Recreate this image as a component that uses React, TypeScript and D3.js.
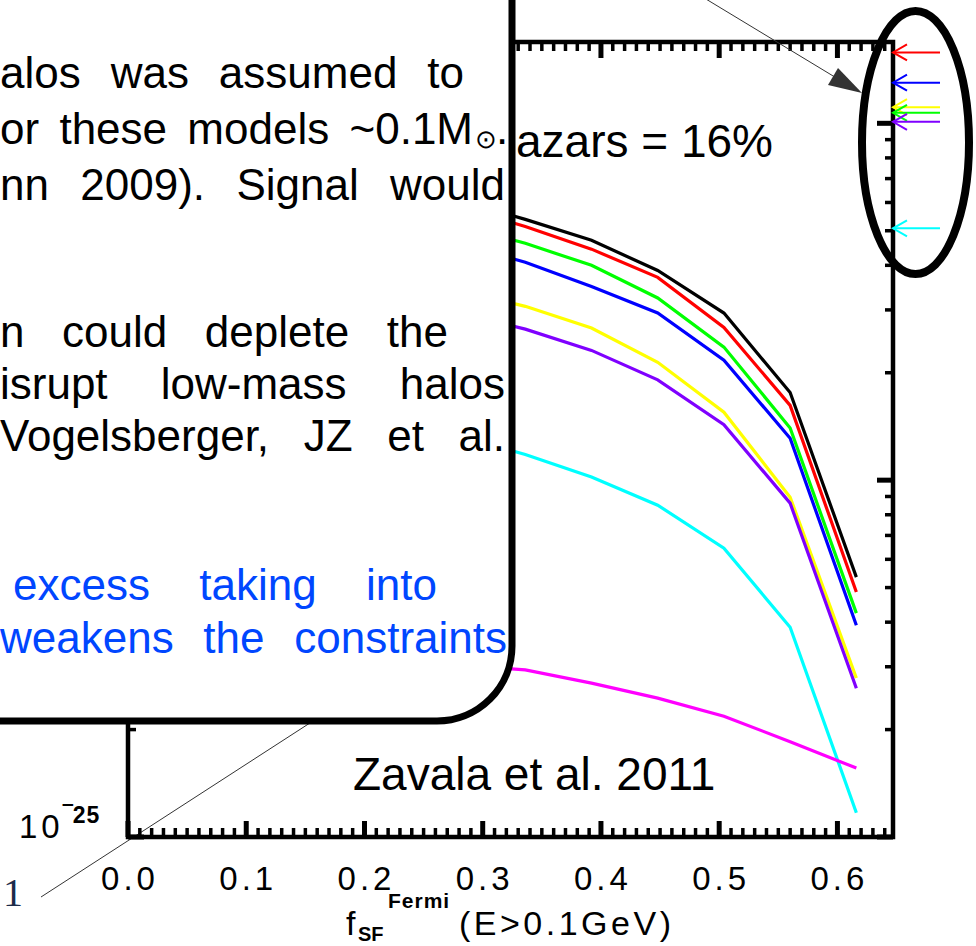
import React, { useMemo } from "react";
import * as d3 from "d3";

// ---- data ----
const fSF = [0, 0.056, 0.112, 0.168, 0.224, 0.28, 0.336, 0.392, 0.448, 0.504, 0.56, 0.616];
const blackVals = [9.0e-24, 8.6e-24, 8.0e-24, 7.4e-24, 6.7e-24, 6.08e-24, 5.38e-24, 4.7e-24, 3.87e-24, 2.94e-24, 1.76e-24, 5.35e-25];
const redVals = [8.6e-24, 8.2e-24, 7.6e-24, 7.0e-24, 6.4e-24, 5.82e-24, 5.14e-24, 4.44e-24, 3.7e-24, 2.68e-24, 1.62e-24, 4.86e-25];
const greenVals = [7.8e-24, 7.3e-24, 6.8e-24, 6.2e-24, 5.7e-24, 5.18e-24, 4.61e-24, 4.0e-24, 3.24e-24, 2.36e-24, 1.4e-24, 4.24e-25];
const blueVals = [7.0e-24, 6.5e-24, 6.0e-24, 5.5e-24, 5.05e-24, 4.61e-24, 4.08e-24, 3.49e-24, 2.94e-24, 2.17e-24, 1.31e-24, 3.92e-25];
const yellowVals = [5.2e-24, 4.9e-24, 4.5e-24, 4.1e-24, 3.75e-24, 3.4e-24, 3.07e-24, 2.67e-24, 2.14e-24, 1.55e-24, 8.96e-25, 2.79e-25];
const purpleVals = [4.5e-24, 4.2e-24, 3.9e-24, 3.55e-24, 3.25e-24, 2.94e-24, 2.65e-24, 2.31e-24, 1.91e-24, 1.43e-24, 8.62e-25, 2.61e-25];
const cyanVals = [2.1e-24, 1.95e-24, 1.8e-24, 1.65e-24, 1.48e-24, 1.33e-24, 1.18e-24, 1.02e-24, 8.51e-25, 6.45e-25, 3.87e-25, 1.17e-25];
const magentaVals = [3.6e-25, 3.5e-25, 3.4e-25, 3.3e-25, 3.15e-25, 3.03e-25, 2.94e-25, 2.7e-25, 2.45e-25, 2.18e-25, 1.85e-25, 1.56e-25];

const seriesColors = ["#000000", "#ff0000", "#00ff00", "#0000ff", "#ffff00", "#7f00ff", "#00ffff", "#ff00ff"];
const seriesVals = [blackVals, redVals, greenVals, blueVals, yellowVals, purpleVals, cyanVals, magentaVals];

// limits marked by arrows at the right axis
const arrowVals = [1.58e-23, 1.3e-23, 1.11e-23, 1.07e-23, 1.01e-23, 5.08e-24];
const arrowColors = ["#ff0000", "#0000ff", "#ffff00", "#00ff00", "#7f00ff", "#00ffff"];

const xTickLabels = ["0.0", "0.1", "0.2", "0.3", "0.4", "0.5", "0.6"];
const xMajor = [0, 0.1, 0.2, 0.3, 0.4, 0.5, 0.6];
const yDecades = [-25, -24, -23];

const textLines = [
  { y: 88, x0: 0, x1: 464, words: ["alos", "was", "assumed", "to"], blue: false },
  { y: 200, x0: 0, x1: 505, words: ["nn", "2009).", "Signal", "would"], blue: false },
  { y: 347, x0: 0, x1: 448, words: ["n", "could", "deplete", "the"], blue: false },
  { y: 399, x0: 0, x1: 505, words: ["isrupt", "low-mass", "halos"], blue: false },
  { y: 451, x0: 0, x1: 505, words: ["Vogelsberger,", "JZ", "et", "al."], blue: false },
  { y: 600, x0: 13, x1: 437, words: ["excess", "taking", "into"], blue: true },
  { y: 653, x0: 0, x1: 507, words: ["weakens", "the", "constraints"], blue: true },
];
const massLine = { y: 144, x0: 0, x1: 473, words: ["or", "these", "models", "~0.1M"] };

const SANS = '"Liberation Sans", Arial, sans-serif';
const BOX_FONT = 44;

let ctx: CanvasRenderingContext2D | null = null;
function measure(t: string, size: number) {
  if (!ctx) ctx = document.createElement("canvas").getContext("2d");
  if (!ctx) return t.length * size * 0.5;
  ctx.font = `${size}px "Liberation Sans"`;
  return ctx.measureText(t).width;
}
function layoutWords(words: string[], x0: number, x1: number) {
  const w = words.map((s) => measure(s, BOX_FONT));
  const sum = w.reduce((a, b) => a + b, 0);
  const gap = words.length > 1 ? (x1 - x0 - sum) / (words.length - 1) : 0;
  const xs: number[] = [];
  let cur = x0;
  w.forEach((ww) => {
    xs.push(cur);
    cur += ww + gap;
  });
  return xs;
}

export default function App() {
  const W = 976, H = 946;
  const x = d3.scaleLinear().domain([0, 0.647]).range([128, 893]);
  const y = d3.scaleLog().domain([1e-25, 1.69e-23]).range([837, 42]);
  const [L, R] = x.range();
  const [B, T] = y.range();

  const line = d3
    .line<number>()
    .x((_, i) => x(fSF[i]))
    .y((v) => y(v));

  const minorX = d3.range(0, 65).map((i) => i / 100).filter((v) => Math.round(v * 100) % 10 !== 0);
  const minorY: number[] = [];
  yDecades.forEach((d) => {
    for (let m = 2; m <= 9; m++) {
      const v = m * Math.pow(10, d);
      if (v < 1.69e-23) minorY.push(v);
    }
  });

  const lines = useMemo(
    () => textLines.map((l) => ({ ...l, xs: layoutWords(l.words, l.x0, l.x1) })),
    []
  );
  const massXs = useMemo(() => layoutWords(massLine.words, massLine.x0, massLine.x1), []);

  const tipX = R;
  return (
    <svg width={W} height={H} style={{ position: "absolute", left: 0, top: 0, background: "#fff" }}>
      <rect x={0} y={0} width={W} height={H} fill="#fff" />
      {/* diagonal pointer line behind box */}
      <line x1={41} y1={897} x2={330} y2={710} stroke="#333" strokeWidth={1} />

      {/* data lines */}
      <g fill="none" strokeWidth={3.2} strokeLinejoin="miter">
        {seriesVals.map((vals, i) => (
          <path key={i} d={line(vals) || ""} stroke={seriesColors[i]} />
        ))}
      </g>

      {/* frame */}
      <rect x={L} y={T} width={R - L} height={B - T} fill="none" stroke="#000" strokeWidth={4.5} />
      {/* ticks */}
      <g stroke="#000">
        {minorX.map((v) => (
          <g key={"mx" + v} strokeWidth={3.5}>
            <line x1={x(v)} x2={x(v)} y1={B} y2={B - 9} />
            <line x1={x(v)} x2={x(v)} y1={T} y2={T + 9} />
          </g>
        ))}
        {xMajor.map((v) => (
          <g key={"Mx" + v} strokeWidth={5}>
            <line x1={x(v)} x2={x(v)} y1={B} y2={B - 16} />
            <line x1={x(v)} x2={x(v)} y1={T} y2={T + 16} />
          </g>
        ))}
        {minorY.map((v) => (
          <g key={"my" + v} strokeWidth={3.5}>
            <line x1={L} x2={L + 8} y1={y(v)} y2={y(v)} />
            <line x1={R} x2={R - 8} y1={y(v)} y2={y(v)} />
          </g>
        ))}
        {yDecades.map((d) => (
          <g key={"My" + d} strokeWidth={5}>
            <line x1={L} x2={L + 16} y1={y(Math.pow(10, d))} y2={y(Math.pow(10, d))} />
            <line x1={R} x2={R - 16} y1={y(Math.pow(10, d))} y2={y(Math.pow(10, d))} />
          </g>
        ))}
      </g>
      {/* x tick labels */}
      <g fontFamily={SANS} fontSize={33} fill="#000" textAnchor="middle" style={{ letterSpacing: "4px" }}>
        {xMajor.map((v, i) => (
          <text key={v} x={x(v) + 2} y={890}>
            {xTickLabels[i]}
          </text>
        ))}
      </g>
      {/* y label for bottom decade */}
      <text x={19} y={838} fontFamily={SANS} fontSize={33} fill="#000" style={{ letterSpacing: "4px" }}>
        10
      </text>
      <text x={64} y={823} fontFamily={SANS} fontSize={23} fontWeight="bold" fill="#000" style={{ letterSpacing: "1px" }}>
        {"\u203E25"}
      </text>
      {/* x axis title */}
      <text x={346} y={935} fontFamily={SANS} fontSize={34} fill="#000">
        f
      </text>
      <text x={358} y={941} fontFamily={SANS} fontSize={20} fontWeight="bold" fill="#000">
        SF
      </text>
      <text x={388} y={908} fontFamily={SANS} fontSize={21} fontWeight="bold" fill="#000" style={{ letterSpacing: "1px" }}>
        Fermi
      </text>
      <text x={459} y={935} fontFamily={SANS} fontSize={34} fill="#000" style={{ letterSpacing: "3.5px" }}>
        (E&gt;0.1GeV)
      </text>

      <text x={353} y={790} fontFamily={SANS} fontSize={46} fill="#000">
        Zavala et al. 2011
      </text>
      <text x={516} y={157} fontFamily={SANS} fontSize={46} fill="#000">
        azars = 16%
      </text>

      {/* overlay text box */}
      <rect x={-120} y={-120} width={632} height={841} rx={75} ry={75} fill="#fff" stroke="#000" strokeWidth={7} />
      <g fontFamily={SANS} fontSize={BOX_FONT}>
        {lines.map((l, i) =>
          l.words.map((w, j) => (
            <text key={i + "-" + j} x={l.xs[j]} y={l.y} fill={l.blue ? "#0046ff" : "#000"}>
              {w}
            </text>
          ))
        )}
        {massLine.words.map((w, j) => (
          <text key={"m" + j} x={massXs[j]} y={massLine.y} fill="#000">
            {w}
          </text>
        ))}
        <text x={475} y={massLine.y + 4} fontSize={26} fill="#000">
          {"\u2299"}
        </text>
        <text x={496} y={massLine.y} fill="#000">
          .
        </text>
      </g>

      {/* arrows at right axis */}
      <g strokeWidth={2} fill="none">
        {arrowVals.map((v, i) => (
          <g key={"a" + i} stroke={arrowColors[i]}>
            <line x1={tipX} x2={940} y1={y(v)} y2={y(v)} />
            <polyline points={`${tipX + 14},${y(v) - 8} ${tipX},${y(v)} ${tipX + 14},${y(v) + 8}`} />
          </g>
        ))}
      </g>
      {/* ellipse highlight */}
      <ellipse cx={915.5} cy={142.5} rx={53.5} ry={131.5} fill="none" stroke="#000" strokeWidth={8} />
      {/* annotation arrow */}
      <line x1={696} y1={-7} x2={848} y2={85} stroke="#333" strokeWidth={1} />
      <polygon points="862,93 828,85 838,68" fill="#333" />

      <text x={3} y={906} fontFamily='"Liberation Serif", serif' fontSize={40} fill="#1c2b4a">
        1
      </text>
    </svg>
  );
}
